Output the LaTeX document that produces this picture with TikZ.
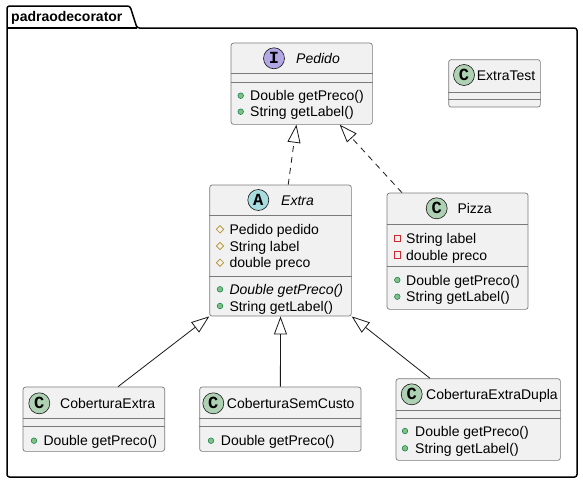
\documentclass[tikz,border=0pt]{standalone}
\usepackage{fontspec}
\setmainfont{Liberation Sans}
\newfontfamily\spotfont{Liberation Mono}
\usetikzlibrary{arrows.meta,shapes.geometric}
\definecolor{boxfill}{HTML}{F1F1F1}
\definecolor{boxline}{HTML}{181818}
\definecolor{sepgray}{HTML}{7A7A7A}
\definecolor{classspot}{HTML}{ADD1B2}
\definecolor{ifacespot}{HTML}{B4A7E5}
\definecolor{absspot}{HTML}{A9DCDF}
\definecolor{pubfill}{HTML}{84BE84}
\definecolor{publine}{HTML}{038048}
\definecolor{protline}{HTML}{B38D22}
\definecolor{privline}{HTML}{C82930}
\begin{document}
\begin{tikzpicture}[x=1pt,y=-1pt,
  font=\fontsize{14}{16}\selectfont,
  classbox/.style={draw=sepgray, fill=boxfill, line width=0.7pt, rounded corners=2.5pt, anchor=north west, inner sep=0pt},
  spot/.style={circle, draw=boxline, line width=0.6pt, minimum size=21pt, inner sep=0pt, font=\fontsize{17}{17}\selectfont\spotfont\bfseries},
  title/.style={anchor=west, inner sep=0pt, text height=10pt, text depth=0pt},
  member/.style={anchor=west, inner sep=0pt, text height=10pt, text depth=0pt},
  sepline/.style={draw=sepgray, line width=0.7pt},
  pub/.style={fill=pubfill, draw=publine, line width=0.5pt},
  prot/.style={draw=protline, line width=0.7pt},
  priv/.style={draw=privline, line width=0.7pt},
  realize/.style={draw=boxline, line width=0.8pt, dash pattern=on 6pt off 5pt, -{Triangle[open,length=18pt,width=13pt,line width=0.8pt]}},
  extend/.style={draw=boxline, line width=0.8pt, -{Triangle[open,length=18pt,width=13pt,line width=0.8pt]}}]
\useasboundingbox (0,0) rectangle (583,482);
% package
\draw[line width=1.5pt, rounded corners=2.5pt] (7,477) -- (7,6) -- (130,6) -- (137,28) -- (577,28) -- (577,477) -- cycle;
\draw[line width=1.5pt] (7,28) -- (137,28);
\node[anchor=west, inner sep=0pt, font=\fontsize{14}{16}\selectfont\bfseries] (pkgname) at (11,17.5) {padraodecorator};
% Pedido
\node[classbox, minimum width=141.3pt, minimum height=81.3pt] (pedido) at (230.7,42.7) {};
\node[spot, fill=ifacespot] (pedidoS) at (274,58.3) {I};
\node[title] (pedidoT) at (296,58.3) {\itshape Pedido};
\draw[sepline] (pedido.west |- 0,73.7) -- (pedido.east |- 0,73.7);
\draw[sepline] (pedido.west |- 0,82.3) -- (pedido.east |- 0,82.3);
\filldraw[pub] (240.7,95.7) circle (2.8);
\filldraw[pub] (240.7,111.7) circle (2.8);
\node[member] (pedidoM1) at (250,95.7) {Double getPreco()};
\node[member] (pedidoM2) at (250,111.7) {String getLabel()};
% ExtraTest
\node[classbox, minimum width=91.7pt, minimum height=47.4pt] (extratest) at (448.3,59.3) {};
\node[spot, fill=classspot] (extratestS) at (464,75) {C};
\node[title] (extratestT) at (476.7,75) {ExtraTest};
\draw[sepline] (extratest.west |- 0,92.3) -- (extratest.east |- 0,92.3);
\draw[sepline] (extratest.west |- 0,99.3) -- (extratest.east |- 0,99.3);
% Extra
\node[classbox, minimum width=141.7pt, minimum height=131pt] (extra) at (209.3,184.7) {};
\node[spot, fill=absspot] (extraS) at (258.3,200) {A};
\node[title] (extraT) at (281,200) {\itshape Extra};
\draw[sepline] (extra.west |- 0,215.7) -- (extra.east |- 0,215.7);
\draw[sepline] (extra.west |- 0,276.7) -- (extra.east |- 0,276.7);
\draw[prot] (220,225.6) -- (223.7,229.3) -- (220,233) -- (216.3,229.3) -- cycle;
\draw[prot] (220,242.3) -- (223.7,246) -- (220,249.7) -- (216.3,246) -- cycle;
\draw[prot] (220,259) -- (223.7,262.7) -- (220,266.4) -- (216.3,262.7) -- cycle;
\node[member] (extraF1) at (229.3,229.3) {Pedido pedido};
\node[member] (extraF2) at (229.3,246) {String label};
\node[member] (extraF3) at (229.3,262.7) {double preco};
\filldraw[pub] (220,289.3) circle (2.8);
\filldraw[pub] (220,306) circle (2.8);
\node[member] (extraM1) at (229.3,289.3) {\itshape Double getPreco()};
\node[member] (extraM2) at (229.3,306) {String getLabel()};
% Pizza
\node[classbox, minimum width=141pt, minimum height=116.3pt] (pizza) at (386.7,192.7) {};
\node[spot, fill=classspot] (pizzaS) at (436.7,208.3) {C};
\node[title] (pizzaT) at (457.3,208.3) {Pizza};
\draw[sepline] (pizza.west |- 0,224) -- (pizza.east |- 0,224);
\draw[sepline] (pizza.west |- 0,266.7) -- (pizza.east |- 0,266.7);
\draw[priv] (394,235) rectangle (400.6,241.6);
\draw[priv] (394,251.7) rectangle (400.6,258.3);
\node[member] (pizzaF1) at (406,238.3) {String label};
\node[member] (pizzaF2) at (406,255) {double preco};
\filldraw[pub] (397.3,280) circle (2.8);
\filldraw[pub] (397.3,296.7) circle (2.8);
\node[member] (pizzaM1) at (406,280) {Double getPreco()};
\node[member] (pizzaM2) at (406,296.7) {String getLabel()};
% CoberturaExtra
\node[classbox, minimum width=141.6pt, minimum height=64.3pt] (cextra) at (22.7,386.7) {};
\node[spot, fill=classspot] (cextraS) at (39.3,403.3) {C};
\node[title] (cextraT) at (60,403.3) {CoberturaExtra};
\draw[sepline] (cextra.west |- 0,418.3) -- (cextra.east |- 0,418.3);
\draw[sepline] (cextra.west |- 0,426.7) -- (cextra.east |- 0,426.7);
\filldraw[pub] (34,440.7) circle (2.8);
\node[member] (cextraM1) at (43.3,440.7) {Double getPreco()};
% CoberturaSemCusto
\node[classbox, minimum width=161.4pt, minimum height=64.3pt] (csemcusto) at (199.3,386.7) {};
\node[spot, fill=classspot] (csemcustoS) at (213.3,403.3) {C};
\node[title] (csemcustoT) at (226.7,403.3) {CoberturaSemCusto};
\draw[sepline] (csemcusto.west |- 0,418.3) -- (csemcusto.east |- 0,418.3);
\draw[sepline] (csemcusto.west |- 0,426.7) -- (csemcusto.east |- 0,426.7);
\filldraw[pub] (211,440.7) circle (2.8);
\node[member] (csemcustoM1) at (220.7,440.7) {Double getPreco()};
% CoberturaExtraDupla
\node[classbox, minimum width=164.3pt, minimum height=81.7pt] (dupla) at (395.7,378.3) {};
\node[spot, fill=classspot] (duplaS) at (411.7,394.3) {C};
\node[title] (duplaT) at (426,394.3) {CoberturaExtraDupla};
\draw[sepline] (dupla.west |- 0,410.7) -- (dupla.east |- 0,410.7);
\draw[sepline] (dupla.west |- 0,418.3) -- (dupla.east |- 0,418.3);
\filldraw[pub] (405,431) circle (2.8);
\filldraw[pub] (405,448.3) circle (2.8);
\node[member] (duplaM1) at (415,431) {Double getPreco()};
\node[member] (duplaM2) at (415,448.3) {String getLabel()};
% relations
\draw[realize] ([xshift=7.7pt]extra.north) -- ([xshift=-5.3pt]pedido.south);
\draw[realize] ([xshift=15.3pt]pizza.north west) -- ([xshift=-33pt]pedido.south east);
\draw[extend] ([xshift=95.3pt]cextra.north west) -- (extra.south west);
\draw[extend] (csemcusto.north) -- (extra.south);
\draw[extend] ([xshift=34.3pt]dupla.north west) -- (extra.south east);
\end{tikzpicture}
\end{document}
